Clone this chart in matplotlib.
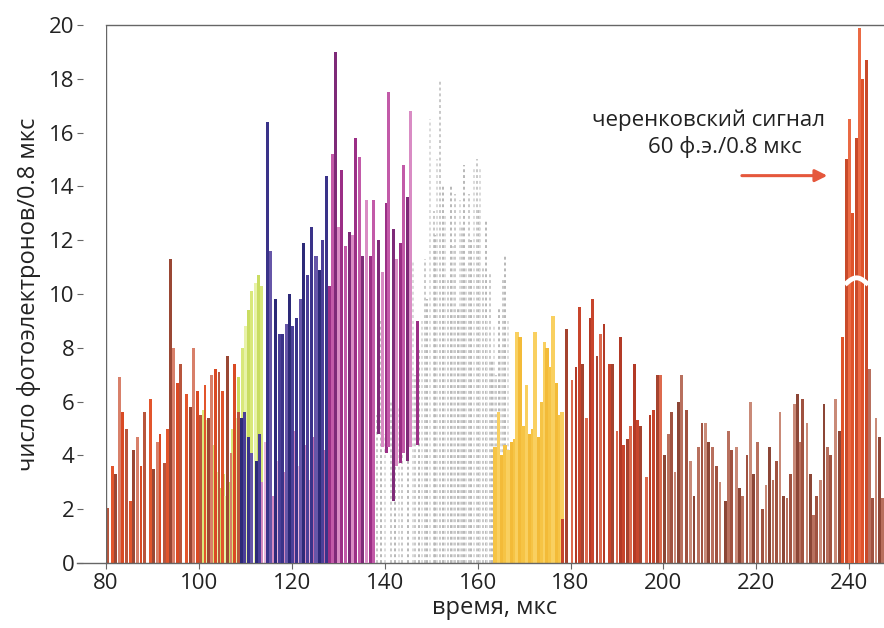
import matplotlib.pyplot as plt
import numpy as np

plt.rcParams['font.family'] = ['Open Sans', 'DejaVu Sans']

# photoelectron counts per 0.8 us bin, grouped by the colour band they are drawn in
red1_t = [80.3, 81.4, 82.1, 82.9, 83.6, 84.4, 85.3, 85.9, 86.7, 87.5,
          88.2, 89.5, 90.2, 91.0, 91.6, 92.5, 93.2, 93.9, 94.6, 95.4,
          96.1, 97.4, 98.1, 98.9, 99.7, 100.4, 101.3, 102.0, 102.7, 103.5,
          104.3, 105.0, 106.2, 106.9, 107.7, 108.5]
red1_v = [2.05, 3.6, 3.3, 6.9, 5.6, 5.0, 2.3, 4.2, 4.7, 3.6,
          5.6, 6.1, 3.5, 4.5, 4.8, 3.7, 5.0, 11.3, 8.0, 6.7,
          7.4, 6.3, 5.8, 8.0, 6.4, 5.5, 6.6, 5.4, 7.0, 7.2,
          7.1, 6.4, 7.7, 4.1, 7.4, 5.6]

ygrn_t = [101.0, 101.7, 102.4, 103.1, 103.8, 104.5, 105.2, 105.8, 106.5, 107.2,
          107.9, 108.6, 109.3, 110.0, 110.7, 111.4, 112.1, 112.8, 113.5]
ygrn_v = [5.7, 5.3, 4.6, 4.4, 3.4, 2.8, 3.3, 2.5, 3.0, 5.0,
          5.4, 6.9, 8.0, 8.8, 9.4, 10.1, 10.4, 10.7, 10.3]

navy_t = [109.2, 109.9, 110.6, 111.4, 112.3, 113.0, 114.7, 115.5, 116.4, 117.3,
          118.0, 118.8, 119.5, 120.2, 120.9, 121.9, 122.6, 123.4, 124.3, 125.2,
          125.9, 126.7, 127.4]
navy_v = [5.4, 5.6, 4.7, 4.1, 3.8, 4.8, 16.4, 11.6, 9.8, 8.5,
          8.5, 8.9, 10.0, 8.8, 9.1, 9.8, 11.9, 10.7, 12.5, 11.4,
          10.9, 12.0, 14.4]

pink_t = [113.4, 114.3, 115.1, 115.9, 116.8, 117.7, 118.4, 119.1, 119.9, 120.6,
          121.4, 122.2, 123.0, 123.8, 124.7, 125.5, 126.3, 127.0]
pink_v = [3.0, 4.5, 4.0, 2.5, 3.8, 4.6, 3.4, 4.2, 2.8, 4.9,
          3.6, 2.2, 4.4, 3.1, 4.7, 3.9, 2.9, 4.2]

purple_t = [128.1, 128.8, 129.5, 130.1, 130.7, 131.5, 132.4, 133.1, 133.8, 134.6,
            135.3, 136.1, 136.9, 137.6, 138.7, 139.6, 140.3, 140.9, 141.8, 142.6,
            143.3, 144.1, 144.8, 145.5, 147.0]
purple_v = [10.3, 15.2, 19.0, 12.5, 14.6, 11.8, 12.3, 12.2, 15.8, 15.1,
            11.4, 13.5, 11.4, 13.5, 12.0, 10.8, 13.4, 17.5, 12.4, 11.3,
            11.9, 14.8, 13.6, 16.8, 9.0]
purple_lo = [0, 0, 0, 0, 0, 0, 0, 0, 0, 0,
             0, 0, 0, 0, 4.8, 4.3, 4.1, 4.3, 2.3, 3.6,
             3.7, 4.1, 3.8, 4.3, 4.4]

gray_t = [138.3, 139.2, 140.0, 141.3, 142.2, 143.0, 143.7, 145.1, 146.0, 146.6,
          147.4, 148.1, 148.7, 149.2, 149.7, 150.5, 150.9, 151.3, 152.0, 152.5,
          153.0, 153.6, 154.3, 154.7, 155.2, 155.7, 156.2, 156.6, 157.0, 157.6,
          158.1, 158.6, 159.2, 159.9, 160.2, 160.6, 161.2, 161.7, 162.1, 162.6,
          163.0, 163.5, 164.0, 164.6, 165.0, 165.5, 166.0, 166.5]
gray_v = [5.5, 9.0, 4.8, 6.0, 8.6, 5.8, 6.8, 7.5, 11.2, 7.0,
          8.0, 9.0, 11.3, 9.8, 16.5, 13.1, 12.2, 15.0, 17.9, 14.0,
          12.9, 10.6, 14.0, 11.8, 13.7, 9.5, 13.5, 12.5, 14.8, 11.0,
          13.7, 12.0, 14.7, 15.0, 13.2, 14.7, 11.0, 12.8, 9.0, 10.8,
          7.5, 8.8, 7.0, 9.5, 8.0, 10.6, 11.5, 9.0]

yel_t = [163.8, 164.5, 165.2, 165.9, 166.6, 167.3, 168.0, 168.5, 169.1, 169.8,
         170.5, 171.2, 171.9, 172.4, 173.1, 173.8, 174.4, 175.0, 175.6, 176.3,
         177.0, 177.6, 178.2]
yel_v = [4.3, 5.6, 4.0, 4.4, 4.2, 4.5, 4.6, 8.6, 8.4, 5.1,
         6.6, 4.8, 5.0, 8.6, 4.7, 6.0, 8.2, 8.0, 7.3, 9.2,
         6.7, 5.5, 5.6]

red2_t = [178.3, 179.2, 180.3, 181.2, 181.9, 182.6, 183.5, 184.2, 184.8, 185.7,
          186.5, 187.2, 188.4, 189.1, 190.0, 190.7, 191.4, 192.3, 193.0, 193.7,
          194.4, 195.1, 196.4, 197.1, 197.9, 198.7, 199.4]
red2_v = [1.65, 8.7, 6.8, 7.3, 9.5, 7.4, 5.4, 9.1, 9.8, 7.7,
          8.5, 8.9, 7.4, 7.4, 4.9, 8.4, 4.4, 4.6, 5.1, 7.4,
          5.3, 5.1, 3.2, 5.5, 5.7, 7.0, 7.0]

brown_t = [200.2, 201.1, 201.8, 202.5, 203.2, 203.9, 205.0, 205.9, 206.6, 207.5,
           208.3, 209.0, 209.7, 210.6, 211.4, 212.2, 213.3, 214.0, 214.7, 215.7,
           216.4, 217.1, 218.0, 218.7, 219.4, 220.3, 221.4, 222.1, 222.8, 223.6,
           224.3, 225.1, 225.9, 226.6, 227.3, 228.2, 228.9, 229.5, 230.0, 230.9,
           231.6, 232.3, 233.0, 233.8, 234.6, 235.3, 236.0, 237.0, 237.9,
           244.4, 245.1, 245.8, 246.5, 247.2]
brown_v = [4.0, 4.8, 5.6, 3.4, 6.0, 7.0, 5.7, 3.8, 2.5, 4.3,
           5.2, 5.2, 4.5, 4.3, 3.6, 3.0, 2.3, 4.9, 4.2, 4.3,
           2.8, 2.5, 4.0, 6.0, 3.3, 4.5, 2.0, 2.9, 4.3, 3.1,
           3.8, 5.6, 2.5, 2.4, 3.3, 5.9, 6.3, 4.5, 6.1, 5.2,
           3.3, 1.8, 2.5, 3.1, 5.9, 4.3, 4.0, 6.1, 4.9,
           7.2, 2.4, 5.4, 4.7, 2.4]

cher_t = [238.6, 239.5, 240.1, 240.8, 241.5, 242.2, 242.9, 243.7]
cher_v = [8.4, 15.0, 16.5, 13.0, 15.8, 19.9, 18.0, 18.7]


def bars(ax, t, v, colors, width=0.6, lo=None, z=2):
    cols = [colors[i % len(colors)] for i in range(len(t))]
    v = np.asarray(v, dtype=float)
    lo = np.zeros_like(v) if lo is None else np.asarray(lo, dtype=float)
    ax.bar(t, v - lo, bottom=lo, width=width, color=cols, linewidth=0, zorder=z)


fig = plt.figure(figsize=(8.84, 6.28), dpi=100)
ax = fig.add_axes([0.12, 0.1035, 0.88, 0.8567])

gray_cols = ['#c8c8c8', '#b8b8b8', '#dadada']
ax.vlines(gray_t, 0, gray_v, colors=[gray_cols[i % 3] for i in range(len(gray_t))],
          linestyles=(0, (1.5, 1.5)), linewidth=1.4, zorder=1)

bars(ax, ygrn_t, ygrn_v, ['#d9e87a', '#e8f2a8', '#cadd62'], width=0.65)
bars(ax, red1_t, red1_v, ['#b8553c', '#e2552c', '#9a4734', '#d8806a', '#d94a24'])
bars(ax, pink_t, pink_v, ['#d58ac0', '#e8b4da', '#c06aae'])
bars(ax, navy_t, navy_v, ['#2d2a78', '#4b3f98', '#3a3389', '#6656a8'], width=0.65, z=3)
bars(ax, purple_t, purple_v, ['#9b2f86', '#c25aa8', '#7e2a78', '#d98cc4'],
     width=0.65, lo=purple_lo, z=3)
bars(ax, yel_t, yel_v, ['#f6c445', '#f9d060', '#f3bb38'], width=0.8)
bars(ax, red2_t, red2_v, ['#c8452c', '#a5432f', '#dd6a4e', '#b33a26'])
bars(ax, brown_t, brown_v, ['#8c4636', '#b8705e', '#a05240', '#c98a78'])
bars(ax, cher_t, cher_v, ['#e0532a', '#c94a2a', '#ea6a44'], z=4)

# break mark across the tall signal bars
xs = np.linspace(239.1, 244.1, 60)
ax.plot(xs, 10.35 + 0.25 * np.sin(np.pi * (xs - 239.1) / 5.0),
        color='white', lw=3.5, solid_capstyle='butt', zorder=6)

ax.annotate('', xy=(235.9, 14.4), xytext=(216.3, 14.4),
            arrowprops=dict(arrowstyle='-|>', color='#e5573c', lw=2.2,
                            mutation_scale=18))
ax.text(209.8, 16.45, 'черенковский сигнал', ha='center', va='center',
        fontsize=16, color='#222222')
ax.text(213.3, 15.45, '60 ф.э./0.8 мкс', ha='center', va='center',
        fontsize=16, color='#222222')

ax.set_xlim(80, 247.5)
ax.set_ylim(0, 20)
ax.set_xticks(range(80, 241, 20))
ax.set_yticks(range(0, 21, 2))
ax.tick_params(labelsize=16, direction='out', color='#666666', labelcolor='#222222')
ax.tick_params(axis='x', length=4.5, pad=3)
ax.tick_params(axis='y', length=4.3, pad=2.2)

# y ticks sit a little away from the axis line, which is drawn separately
ax.spines['left'].set_position(('outward', 16.5))
ax.spines['left'].set_visible(False)
ax.axvline(80, color='#666666', lw=1, zorder=5)
ax.plot([-0.038, 0], [0, 0], transform=ax.transAxes, clip_on=False,
        color='#666666', lw=1)
for side in ['bottom', 'top']:
    ax.spines[side].set_color('#666666')
    ax.spines[side].set_linewidth(1)
ax.spines['right'].set_visible(False)

ax.set_xlabel('время, мкс', fontsize=17, color='#222222', labelpad=1)
ax.set_ylabel('число фотоэлектронов/0.8 мкс', fontsize=17, color='#222222')
ax.yaxis.set_label_coords(-0.084, 0.5)

fig.savefig('out.png', dpi=100)
